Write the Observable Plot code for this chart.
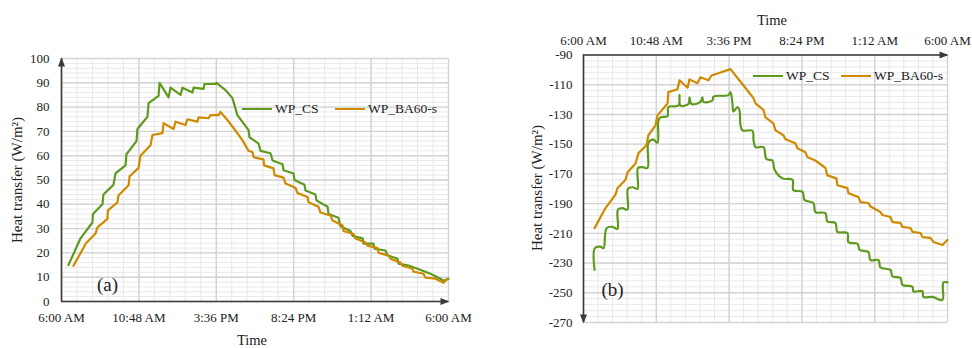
<!DOCTYPE html>
<html>
<head>
<meta charset="utf-8">
<script src="https://cdn.jsdelivr.net/npm/d3@7"></script>
<script src="https://cdn.jsdelivr.net/npm/@observablehq/plot@0.6"></script>
<style>
  html, body { margin: 0; padding: 0; background: #fff; }
  #wrap { position: relative; width: 972px; height: 348px; overflow: hidden; background: #fff;
          font-family: "Liberation Serif", "Times New Roman", serif; color: #222; }
  .panel { position: absolute; top: 0; }
  .leg { position: absolute; display: flex; align-items: center; font-size: 13.5px; white-space: nowrap; }
  .leg span.sw { display: inline-block; width: 30px; height: 2.5px; margin-right: 3px; }
  .ttl { position: absolute; white-space: nowrap; line-height: 1; font-size: 14.5px; transform: translate(-50%, -50%); }
  .ttl.rot { font-size: 15px; transform: translate(-50%, -50%) rotate(-90deg); }
</style>
</head>
<body>
<div id="wrap">
  <div id="pa" class="panel" style="left:0px"></div>
  <div id="pb" class="panel" style="left:520px"></div>
  <div class="leg" style="left:242px; top:101px"><span class="sw" style="background:#5e9a1e"></span>WP_CS</div>
  <div class="leg" style="left:335px; top:101px"><span class="sw" style="background:#d08a00"></span>WP_BA60-s</div>
  <div class="leg" style="left:753px; top:68px"><span class="sw" style="background:#5e9a1e"></span>WP_CS</div>
  <div class="leg" style="left:841px; top:68px"><span class="sw" style="background:#d08a00"></span>WP_BA60-s</div>
  <div class="ttl rot" style="left:17px; top:180px">Heat transfer (W/m²)</div>
  <div class="ttl rot" style="left:537px; top:188px">Heat transfer (W/m²)</div>
  <div class="ttl" style="left:252px; top:340px">Time</div>
  <div class="ttl" style="left:772px; top:20px">Time</div>
</div>
<script>
// ---- shared time axis (hours after 6:00 AM) ----
const timeTicks = [0, 4.8, 9.6, 14.4, 19.2, 24];
const timeLabels = ["6:00 AM", "10:48 AM", "3:36 PM", "8:24 PM", "1:12 AM", "6:00 AM"];
const seriesNames = ["WP_CS", "WP_BA60-s"];
const seriesColors = ["#5e9a1e", "#d08a00"];

// ---- panel (a) ----
const yTicksA = [0, 10, 20, 30, 40, 50, 60, 70, 80, 90, 100];
const aCS = [[0.43,15],[1.18,26],[1.92,32.5],[1.95,36],[2.54,40],[2.60,44],[3.22,48],[3.35,52.7],[3.97,56],[4.03,60.6],
  [4.65,66],[4.71,71],[5.33,76],[5.40,81.6],[6.02,84.6],[6.08,90],[6.64,84],[6.76,88],[7.38,85],[7.50,88],
  [8.12,86],[8.19,88],[8.81,87.5],[8.87,89.5],[9.55,89.5],[9.61,90],[10.17,87],[10.60,83.7],[10.91,76.7],[11.60,70.5],
  [11.66,67.6],[12.22,65],[12.34,62],[12.96,61],[13.09,58],[13.71,56.5],[13.77,54],[14.39,52.7],[14.45,50],[15.07,48],
  [15.13,45.7],[15.75,44],[15.81,41.6],[16.50,39],[16.56,36],[17.18,34.5],[17.30,31],[17.92,29],[18.05,27],[18.67,26],
  [18.73,23.8],[19.35,23.8],[19.41,21.7],[20.09,21],[20.22,19],[20.84,17.6],[20.90,15.6],[21.52,14.8],[22.08,13.5],
  [22.88,11.4],[23.50,9.4],[23.69,8.5],[24,9.4]];
const aBA = [[0.74,14.7],[1.36,22],[1.49,23.8],[2.11,28],[2.23,30.5],[2.85,34],[2.88,37.5],[3.47,40.8],[3.53,43.6],
  [4.16,47.8],[4.22,51.5],[4.78,55],[4.90,60],[5.52,64.3],[5.64,68.5],[6.26,69.3],[6.33,73.4],[6.95,71],[7.07,74],
  [7.69,72.6],[7.81,75],[8.43,74],[8.50,75.8],[9.12,75.4],[9.24,76.7],[9.74,76.7],[9.86,78],[10.29,74.7],[10.67,71.4],
  [11.22,66.4],[11.60,62],[11.85,61.4],[11.91,59.4],[12.53,58.5],[12.56,56],[13.15,54.8],[13.21,52],[13.77,51],
  [13.89,48.6],[14.51,46.8],[14.64,44.6],[15.26,43],[15.32,40.8],[15.94,39],[16.06,36.6],[16.68,35.4],[16.81,33.3],
  [17.43,31.3],[17.49,29],[18.11,27.8],[18.23,25.9],[18.85,24.3],[18.98,23],[19.60,22],[19.66,20],[20.28,18.9],
  [20.40,17.6],[21.02,16],[21.15,14.7],[21.77,13.5],[21.83,12.3],[22.45,11.4],[22.57,9.8],[23.19,9.4],[23.69,7.7],[23.94,9.4]];

// ---- panel (b) ----
const yTicksB = [-90, -110, -130, -150, -170, -190, -210, -230, -250, -270];
const bCS = [[0.73,-234.6],[0.75,-220],[1.12,-219],[1.32,-220],[1.52,-206.5],[1.91,-205.6],[2.24,-207],[2.27,-194],
  [2.57,-193],[2.90,-194],[2.93,-180],[3.23,-179],[3.56,-180],[3.59,-166],[3.89,-165.5],[4.22,-166],[4.28,-149],
  [4.61,-147],[4.88,-149],[4.94,-134],[5.08,-132],[5.54,-131],[5.60,-125],[6.26,-124],[6.33,-117],[6.39,-124],
  [6.92,-123],[6.99,-118.5],[7.12,-123],[7.71,-121.6],[7.84,-118.5],[7.91,-121.6],[8.50,-120.6],[8.57,-118],
  [9.56,-117],[9.69,-115],[9.82,-122.5],[9.89,-128],[10.15,-125],[10.28,-127],[10.35,-137],[10.48,-140.7],
  [11.14,-141],[11.21,-147],[11.34,-152],[11.87,-152],[12.06,-160],[12.46,-161],[12.59,-167],[13.12,-173],
  [13.78,-174],[13.84,-181],[14.44,-182],[14.57,-187.6],[15.16,-189.6],[15.29,-195.7],[15.95,-196.4],[16.08,-202],
  [16.61,-203],[16.74,-209],[17.40,-209.8],[17.47,-216],[18.07,-217],[18.20,-221],[18.79,-222.6],[18.92,-228],
  [19.45,-228],[19.58,-233],[20.24,-234.6],[20.37,-239],[20.90,-240],[21.03,-244.7],[21.69,-246],[21.75,-249],
  [22.35,-249],[22.41,-252.8],[23.01,-252.8],[23.67,-254.8],[23.69,-246.7],[23.73,-243],[24,-243]];
const bBA = [[0.73,-206.5],[1.45,-193],[2.11,-184],[2.24,-179.6],[2.77,-174],[2.90,-169],[3.43,-163],[3.63,-156],
  [4.15,-150.7],[4.28,-144],[4.75,-137.3],[4.88,-130.6],[5.54,-122.6],[5.60,-115],[6.20,-113],[6.33,-107],[6.86,-112],
  [6.99,-106.4],[7.51,-109],[7.71,-105],[8.24,-107],[8.44,-103.8],[9.69,-99.5],[10.55,-110.5],[11.21,-119],
  [11.34,-122.6],[11.87,-127],[12.00,-132],[12.52,-136],[12.66,-140.7],[13.18,-144],[13.32,-146.7],[13.97,-149.4],
  [14.11,-152.8],[14.63,-155.4],[14.77,-158.8],[15.29,-161],[15.42,-162],[15.95,-166],[16.08,-171],[16.68,-173],
  [16.74,-177.6],[17.40,-179.6],[17.47,-183],[18.13,-185.6],[18.26,-189],[18.79,-189.6],[18.92,-192],[19.58,-195.7],
  [19.71,-197.7],[20.24,-199],[20.37,-202.4],[20.90,-203],[21.03,-205.7],[21.56,-206.4],[21.69,-209],[22.22,-209.8],
  [22.35,-212.5],[22.88,-213],[23.07,-215.8],[23.67,-217.8],[23.86,-215.8],[24,-214.5]];

const FONT = "Liberation Serif, Times New Roman, serif";
const AXIS = "#3a3a3a";
const arrowUp = {draw(c){ c.moveTo(0,-1); c.lineTo(3.5,8); c.lineTo(-3.5,8); c.closePath(); }};
const arrowDown = {draw(c){ c.moveTo(0,1); c.lineTo(3.5,-8); c.lineTo(-3.5,-8); c.closePath(); }};
const arrowRight = {draw(c){ c.moveTo(1,0); c.lineTo(-8,-3.5); c.lineTo(-8,3.5); c.closePath(); }};

function grids(xDomain, yDomain, yMajorStep) {
  const xMinor = d3.range(xDomain[0], xDomain[1] + 1e-9, 0.96);
  const yMinor = d3.range(yDomain[0], yDomain[1] + 1e-9, yMajorStep / 5);
  const yMajor = d3.range(yDomain[0], yDomain[1] + 1e-9, yMajorStep);
  return [
    Plot.ruleX(xMinor, {stroke: "#e8e8e8", strokeWidth: 1}),
    Plot.ruleY(yMinor, {stroke: "#e8e8e8", strokeWidth: 1}),
    Plot.ruleX(timeTicks, {stroke: "#d3d3d3", strokeWidth: 1.4}),
    Plot.ruleY(yMajor, {stroke: "#d3d3d3", strokeWidth: 1.4})
  ];
}

// ---------- chart (a) ----------
const xDomA = [0, 24], yDomA = [0, 100];
const chartA = Plot.plot({
  width: 470, height: 348,
  marginLeft: 61, marginRight: 22, marginTop: 58, marginBottom: 47,
  style: {fontFamily: FONT, fontSize: "13px", color: "#222", background: "transparent", overflow: "visible"},
  x: {domain: xDomA, ticks: timeTicks, tickFormat: d => timeLabels[timeTicks.indexOf(d)], tickSize: 0, tickPadding: 11, label: null},
  y: {domain: yDomA, ticks: yTicksA, tickFormat: d => String(d), tickSize: 0, tickPadding: 12, label: null},
  marks: [
    ...grids(xDomA, yDomA, 10),
    Plot.line(aCS, {x: d => d[0], y: d => d[1], stroke: seriesColors[0], strokeWidth: 2.2}),
    Plot.line(aBA, {x: d => d[0], y: d => d[1], stroke: seriesColors[1], strokeWidth: 2.2}),
    Plot.ruleX([xDomA[0]], {stroke: AXIS, strokeWidth: 1.6}),
    Plot.ruleY([yDomA[0]], {stroke: AXIS, strokeWidth: 1.6}),
    Plot.dot([[xDomA[0], yDomA[1]]], {x: d => d[0], y: d => d[1], symbol: arrowUp, fill: AXIS, stroke: "none"}),
    Plot.dot([[xDomA[1], yDomA[0]]], {x: d => d[0], y: d => d[1], symbol: arrowRight, fill: AXIS, stroke: "none"}),
    Plot.text(["(a)"], {text: d => d, frameAnchor: "bottom-left", dx: 46, dy: -17, textAnchor: "middle", lineAnchor: "middle", fill: "#222", fontSize: "19px"})
  ]
});
document.getElementById("pa").appendChild(chartA);

// ---------- chart (b) ----------
const xDomB = [0, 24], yDomB = [-270, -90];
const chartB = Plot.plot({
  width: 452, height: 348,
  marginLeft: 63, marginRight: 25, marginTop: 54.5, marginBottom: 26,
  style: {fontFamily: FONT, fontSize: "13px", color: "#222", background: "transparent", overflow: "visible"},
  x: {domain: xDomB, axis: "top", ticks: timeTicks, tickFormat: d => timeLabels[timeTicks.indexOf(d)], tickSize: 0, tickPadding: 10, label: null},
  y: {domain: yDomB, ticks: yTicksB, tickFormat: d => String(d), tickSize: 0, tickPadding: 11, label: null},
  marks: [
    ...grids(xDomB, yDomB, 20),
    Plot.line(bCS, {x: d => d[0], y: d => d[1], stroke: seriesColors[0], strokeWidth: 2.2, curve: "catmull-rom"}),
    Plot.line(bBA, {x: d => d[0], y: d => d[1], stroke: seriesColors[1], strokeWidth: 2.2}),
    Plot.ruleX([xDomB[0]], {stroke: AXIS, strokeWidth: 1.6}),
    Plot.ruleY([yDomB[1]], {stroke: AXIS, strokeWidth: 1.6}),
    Plot.dot([[xDomB[0], yDomB[0]]], {x: d => d[0], y: d => d[1], symbol: arrowDown, fill: AXIS, stroke: "none"}),
    Plot.dot([[xDomB[1], yDomB[1]]], {x: d => d[0], y: d => d[1], symbol: arrowRight, fill: AXIS, stroke: "none"}),
    Plot.text(["(b)"], {text: d => d, frameAnchor: "bottom-left", dx: 29, dy: -33, textAnchor: "middle", lineAnchor: "middle", fill: "#222", fontSize: "19px"})
  ]
});
document.getElementById("pb").appendChild(chartB);
</script>
</body>
</html>
